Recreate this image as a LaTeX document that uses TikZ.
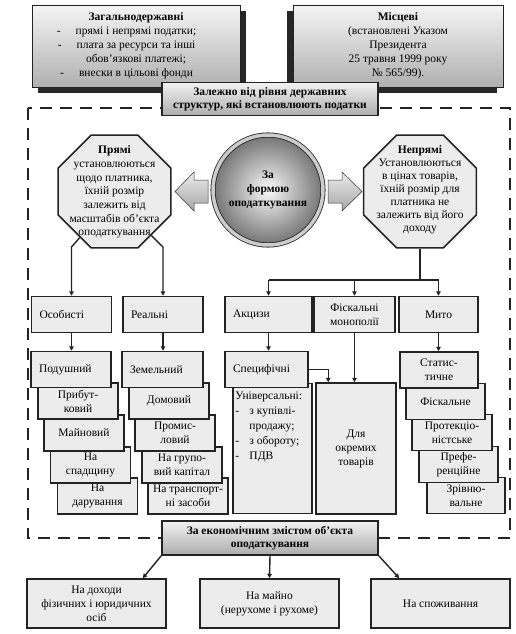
\documentclass[tikz,border=0pt]{standalone}
\usepackage{fontspec}
\setmainfont{Liberation Serif}
\definecolor{inkgray}{RGB}{35,35,35}
\definecolor{cellgray}{RGB}{236,236,236}
\usepackage{tikz}
\usetikzlibrary{arrows.meta,calc,shapes.geometric,shadows}

\begin{document}
\begin{tikzpicture}[x=1pt, y=-1pt,
    every node/.style={font=\fontsize{11.5}{14}\selectfont},
    cell/.style={draw=inkgray, line width=1.5pt, fill=cellgray, minimum width=80pt,
                 minimum height=36pt, inner sep=2pt, align=center},
    leftcell/.style={cell, text width=64pt, align=left},
    topbox/.style={draw=inkgray, line width=0.8pt, top color=gray!8, bottom color=gray!62,
                   minimum width=208pt, minimum height=82pt, inner sep=2pt, align=center},
    headbox/.style={draw=inkgray, line width=1.6pt, top color=gray!10, bottom color=gray!65,
                    minimum width=216pt, minimum height=33pt, inner sep=2pt, align=center,
                    font=\fontsize{11.5}{13}\selectfont\bfseries},
    octa/.style={regular polygon, regular polygon sides=8, minimum size=122pt, inner sep=0pt,
                 draw=inkgray, line width=1.5pt, fill=cellgray},
    arr/.style={draw=inkgray, line width=1.4pt, -{Triangle[length=4.5pt,width=4.5pt]}},
    line/.style={draw=inkgray, line width=1.4pt},
    blockarrow/.style={draw=gray!40!black, line width=0.5pt, top color=gray!15, bottom color=gray!70}]
    \useasboundingbox (0,0) rectangle (515,634);

    \draw[inkgray, line width=1.6pt, dash pattern=on 12pt off 8pt] (28,108) rectangle (510,538);

    \node[topbox, drop shadow={shadow xshift=6pt, shadow yshift=-6pt, fill=black!85, opacity=1}]
        (zahal) at (136,46) {\textbf{Загальнодержавні}\\
        \llap{-\hspace{15pt}}прямі і непрямі податки;\\
        \llap{-\hspace{15pt}}плата за ресурси та інші\\
        обов'язкові платежі;\\
        \llap{-\hspace{15pt}}внески в цільові фонди};
    \node[topbox, minimum width=210pt,
          drop shadow={shadow xshift=-6pt, shadow yshift=-6pt, fill=black!85, opacity=1}]
        (mistsevi) at (398,46) {\textbf{Місцеві}\\(встановлені Указом\\Президента\\
        25 травня 1999 року\\№ 565/99).};
    \node[headbox] (rivni) at (270,99) {Залежно від рівня державних\\структур, які встановлюють податки};

    \node[octa] (pryami) at (114.5,191.5) {};
    \node[align=center, font=\fontsize{11.5}{13.7}\selectfont] (pryamitxt) at (114.5,192)
        {\textbf{Прямі}\\установлюються\\щодо платника,\\їхній розмір\\залежить від\\
        масштабів об'єкта\\оподаткування};
    \node[octa] (nepryami) at (420,191.5) {};
    \node[align=center, font=\fontsize{11.5}{13}\selectfont] (nepryamitxt) at (420,190)
        {\textbf{Непрямі}\\Установлюються\\в цінах товарів,\\їхній розмір для\\платника не\\
        залежить від його\\доходу};
    \node[circle, minimum size=110pt, draw=inkgray, line width=0.8pt, double=gray!40,
          double distance=3.5pt, inner color=gray!4, outer color=black!55, align=center,
          font=\fontsize{11.5}{14}\selectfont\bfseries] (forma) at (268,190)
        {За\\формою\\оподаткування};
    \shade[blockarrow] (208,180) -- (194,180) -- (194,172) -- (175,191.5) -- (194,211)
        -- (194,203) -- (208,203) -- cycle;
    \shade[blockarrow] (328,180) -- (342,180) -- (342,172) -- (362,191.5) -- (342,211)
        -- (342,203) -- (328,203) -- cycle;

    \node[leftcell] (osob) at (71.5,314.5) {Особисті};
    \node[leftcell] (real) at (163,314.5) {Реальні};
    \node[leftcell, minimum width=87pt, text width=71pt] (akc) at (268.5,314.5) {Акцизи};
    \node[cell, minimum width=81pt] (fisk) at (354.5,314.5) {Фіскальні\\монополії};
    \node[cell, minimum width=79pt] (myto) at (438.5,314.5) {Мито};

    \node[cell] (daruv) at (97.5,496) {На\\дарування};
    \node[cell] (spadsh) at (90.5,465) {На\\спадщину};
    \node[cell] (majn) at (84,433) {Майновий};
    \node[cell] (prybut) at (78,401) {Прибут-\\ковий};
    \node[leftcell] (podush) at (71,369.5) {Подушний};

    \node[cell] (transp) at (188,496) {На транспорт-\\ні засоби};
    \node[cell] (grup) at (182,465) {На групо-\\вий капітал};
    \node[cell] (promys) at (175,433) {Промис-\\ловий};
    \node[cell] (domov) at (169,401) {Домовий};
    \node[leftcell, minimum width=81pt, text width=65pt] (zemel) at (162.5,369.5) {Земельний};

    \node[cell, minimum width=79pt, minimum height=130pt] (univ) at (272.5,448.5) {};
    \node[anchor=north west, align=left, inner sep=0pt, font=\fontsize{11.5}{15}\selectfont]
        (univtxt) at ($(univ.north west)+(3,9)$)
        {Універсальні:\\\makebox[14pt][l]{-}з купівлі-\\\hspace*{14pt}продажу;\\
        \makebox[14pt][l]{-}з обороту;\\\makebox[14pt][l]{-}ПДВ};
    \node[leftcell, minimum width=83pt, text width=67pt] (specyf) at (266.5,369.5) {Специфічні};
    \node[cell, minimum height=131pt] (okrem) at (356,448.5) {Для\\окремих\\товарів};

    \node[cell, minimum width=78pt] (zrivn) at (466,495.5) {Зрівню-\\вальне};
    \node[cell, minimum width=79pt] (pref) at (458.5,464.5) {Префе-\\ренційне};
    \node[cell] (protek) at (452,432.5) {Протекціо-\\ністське};
    \node[cell, minimum width=79pt] (fiskal) at (445.5,401.5) {Фіскальне};
    \node[cell, minimum width=78pt] (stat) at (439,370) {Статис-\\тичне};

    \node[headbox, minimum height=34pt] (ekon) at (270,538) {За економічним змістом об'єкта\\оподаткування};
    \node[cell, minimum width=139pt, minimum height=49pt] (dokhody) at (96.5,603.5)
        {На доходи\\фізичних і юридичних\\осіб};
    \node[cell, minimum width=139pt, minimum height=49pt] (majno) at (269.5,603.5)
        {На майно\\(нерухоме і рухоме)};
    \node[cell, minimum width=139pt, minimum height=49pt] (spozh) at (440.5,603.5) {На споживання};

    \draw[arr] (pryami.-127) -- (osob.north |- 0,247) -- (osob.north);
    \draw[arr] (pryami.-50) -- (real.north |- 0,247) -- (real.north);
    \draw[line] (nepryami.south) -- (nepryami.south |- 0,280);
    \draw[line] (akc.north |- 0,280) -- (myto.north |- 0,280);
    \draw[arr] (akc.north |- 0,280) -- (akc.north);
    \draw[arr] (fisk.north |- 0,280) -- (fisk.north);
    \draw[arr] (myto.north |- 0,280) -- (myto.north);
    \draw[arr] (osob.south) -- (osob.south |- podush.north);
    \draw[arr] (real.south) -- (real.south |- zemel.north);
    \draw[arr] (akc.south) -- (akc.south |- specyf.north);
    \draw[arr] (myto.south) -- (myto.south |- stat.north);
    \draw[arr] (fisk.south) -- (fisk.south |- okrem.north);
    \draw[arr] (specyf.east) -| ($(okrem.north west)+(13,0)$);
    \draw[arr] (ekon.south west) -- ($(dokhody.north east)+(-24,0)$);
    \draw[arr] (ekon.south) -- (majno.north);
    \draw[arr] (ekon.south east) -- ($(spozh.north west)+(29,0)$);
\end{tikzpicture}
\end{document}
